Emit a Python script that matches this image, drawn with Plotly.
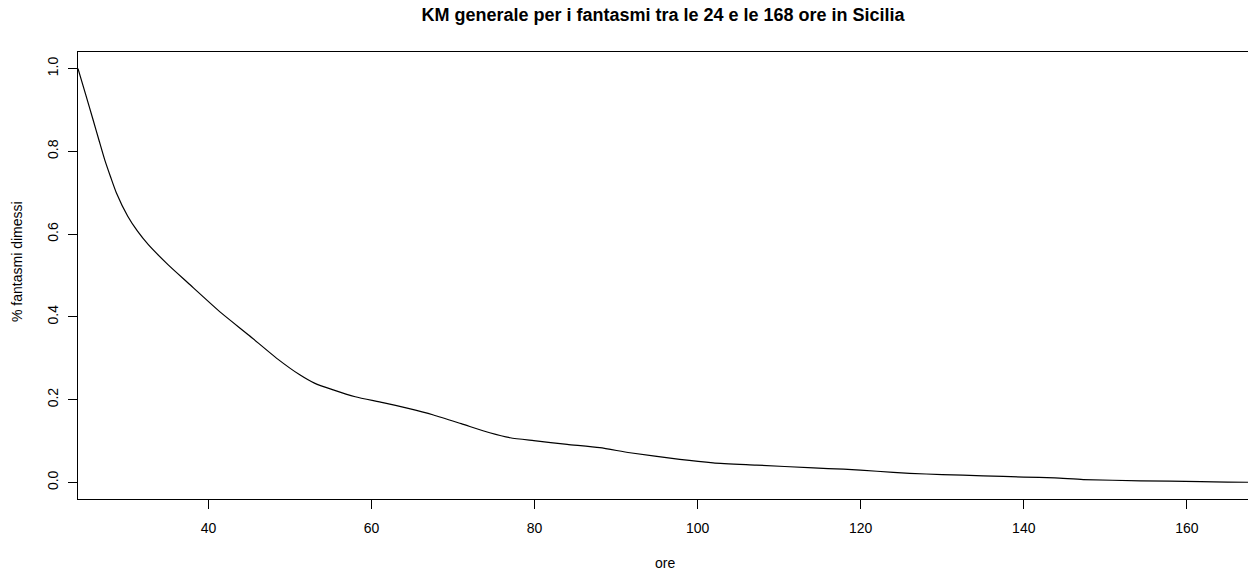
import plotly.graph_objects as go

# Kaplan-Meier survival
ore = [24.0, 24.9, 25.84, 26.6, 27.27, 28.0, 28.7, 30.1, 31.3, 32.6, 35.0,
       37.5, 41.6, 45.0, 48.5, 51.2, 53.0, 55.3, 58.0, 61.4, 64.5, 67.6,
       71.0, 74.5, 77.0, 79.9, 84.0, 88.0, 91.7, 97.8, 101.9, 107.2,
       114.2, 117.9, 122.0, 126.0, 130.0, 135.0, 140.0, 143.8, 147.3,
       154.3, 161.7, 165.0, 167.5]
sopravv = [1.0, 0.94, 0.877, 0.825, 0.780, 0.738, 0.700, 0.643, 0.607, 0.575,
           0.527, 0.482, 0.409, 0.355, 0.298, 0.260, 0.240, 0.2235, 0.207,
           0.193, 0.179, 0.163, 0.142, 0.120, 0.108, 0.101, 0.092, 0.084,
           0.0717, 0.0557, 0.0475, 0.042, 0.035, 0.032, 0.027, 0.022, 0.019,
           0.016, 0.013, 0.011, 0.007, 0.004, 0.002, 0.0007, 0.0005]

x_ticks = [40, 60, 80, 100, 120, 140, 160]
y_ticks = [0.0, 0.2, 0.4, 0.6, 0.8, 1.0]

FONT = "Liberation Sans, Arial, sans-serif"
W, H = 1248, 571
ML, MR, MT, MB = 78, 0, 52, 72
PW, PH = W - ML - MR, H - MT - MB

fig = go.Figure()
fig.add_trace(go.Scatter(x=ore, y=sopravv, mode="lines",
                         line=dict(color="black", width=1.2, shape="spline",
                                   smoothing=0.6),
                         showlegend=False, hoverinfo="skip"))

fig.update_layout(
    width=W, height=H,
    margin=dict(l=ML, r=MR, t=MT, b=MB),
    paper_bgcolor="white", plot_bgcolor="white",
    font=dict(family=FONT, size=14, color="black"),
    title=dict(text="<b>KM generale per i fantasmi tra le 24 e le 168 ore in Sicilia</b>",
               x=0.5, xref="paper", y=1 - 15 / H, yref="container",
               xanchor="center", yanchor="middle",
               font=dict(family=FONT, size=18, color="black")),
)
fig.update_xaxes(range=[24, 167.5], tickvals=x_ticks, showgrid=False, zeroline=False,
                 showline=True, linecolor="black", linewidth=1, mirror=True,
                 ticks="outside", ticklen=9, tickcolor="black", tickwidth=1,
                 ticklabelstandoff=7, tickfont=dict(size=14))
fig.update_yaxes(range=[-0.04, 1.04], tickvals=y_ticks, tickformat=".1f",
                 showgrid=False, zeroline=False,
                 showline=True, linecolor="black", linewidth=1, mirror=True,
                 ticks="outside", ticklen=9, tickcolor="black", tickwidth=1,
                 tickangle=-90, ticklabelstandoff=4, tickfont=dict(size=14))

fig.add_annotation(text="ore", x=(665 - ML) / PW, xref="paper",
                   y=(H - MB - 563) / PH, yref="paper",
                   yanchor="middle", xanchor="center", showarrow=False,
                   font=dict(size=14))
fig.add_annotation(text="% fantasmi dimessi", x=(17 - ML) / PW, xref="paper",
                   y=(H - MB - 262) / PH, yref="paper",
                   textangle=-90, xanchor="center", yanchor="middle", showarrow=False,
                   font=dict(size=14))

fig.write_html("out.html")
